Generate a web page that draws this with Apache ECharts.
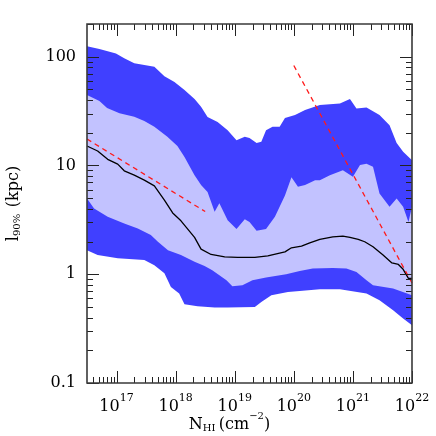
<!DOCTYPE html>
<html>
<head>
<meta charset="utf-8">
<script src="https://cdn.jsdelivr.net/npm/echarts@6/dist/echarts.min.js"></script>
<style>
  html, body { margin: 0; padding: 0; background: #fff; }
  #chart { width: 436px; height: 436px; }
</style>
</head>
<body>
<div id="chart"></div>
<script>
// x values are log10(N_HI / cm^-2), l values in kpc
const outerTopN = [16.5, 16.71, 16.99, 17.13, 17.30, 17.47, 17.64, 17.81, 17.98, 18.15, 18.32, 18.43, 18.54, 18.71, 18.88, 19.03, 19.17, 19.25, 19.37, 19.45, 19.53, 19.64, 19.76, 19.85, 20.02, 20.19, 20.44, 20.78, 20.95, 21.06, 21.23, 21.45, 21.62, 21.74, 21.85, 22.0]
const outerTopL = [125, 118, 107, 97, 87, 84, 81, 66, 58.5, 49.4, 40.8, 34.7, 27.9, 25.1, 21.1, 17.1, 18.4, 17.9, 16.1, 16.5, 21.1, 22.7, 22.7, 27.3, 29.1, 32.4, 36, 37.2, 40.8, 33.5, 34.2, 29.1, 23.5, 16.1, 13.4, 11.2]

const innerTopN = [16.5, 16.71, 16.84, 17.05, 17.30, 17.47, 17.64, 17.86, 18.03, 18.15, 18.32, 18.43, 18.54, 18.66, 18.74, 18.88, 19.03, 19.17, 19.25, 19.37, 19.53, 19.68, 19.85, 19.96, 20.07, 20.19, 20.36, 20.44, 20.61, 20.83, 21.00, 21.12, 21.23, 21.34, 21.45, 21.62, 21.74, 21.85, 21.94, 22.0]
const innerTopL = [44.5, 39.1, 33.7, 30.3, 28.0, 25.6, 22.7, 18.4, 15.1, 12.0, 8.15, 6.6, 5.72, 3.75, 4.5, 3.14, 2.60, 3.2, 3.03, 2.51, 2.60, 3.37, 5.3, 7.8, 6.37, 6.6, 7.33, 7.33, 8.15, 9.06, 7.87, 10.1, 10.4, 9.73, 5.54, 4.17, 4.98, 4.17, 3.03, 4.17]

const medianN = [16.5, 16.68, 16.85, 17.02, 17.13, 17.30, 17.47, 17.64, 17.81, 17.95, 18.09, 18.32, 18.43, 18.60, 18.83, 19.05, 19.34, 19.56, 19.85, 19.96, 20.13, 20.27, 20.44, 20.66, 20.83, 20.95, 21.09, 21.20, 21.34, 21.51, 21.66, 21.77, 21.85, 21.94, 22.0]
const medianL = [15.1, 13.6, 11.4, 10.3, 8.94, 8.15, 7.33, 6.5, 4.80, 3.66, 3.10, 2.18, 1.70, 1.52, 1.445, 1.427, 1.427, 1.475, 1.606, 1.75, 1.81, 1.94, 2.09, 2.21, 2.24, 2.18, 2.09, 1.99, 1.79, 1.50, 1.27, 1.23, 1.11, 0.915, 0.915]

const innerBotN = [16.5, 16.62, 16.85, 17.13, 17.36, 17.58, 17.70, 17.87, 18.09, 18.32, 18.49, 18.62, 18.86, 18.96, 19.13, 19.30, 19.53, 19.87, 20.10, 20.32, 20.66, 20.89, 21.06, 21.23, 21.34, 21.68, 22.0]
const innerBotL = [4.98, 4.03, 3.37, 2.93, 2.64, 2.29, 1.99, 1.66, 1.50, 1.30, 1.19, 1.09, 0.881, 0.776, 0.792, 0.881, 0.933, 1.00, 1.07, 1.13, 1.14, 1.13, 1.05, 0.881, 0.792, 0.74, 0.641]

const outerBotN = [16.5, 16.68, 17.02, 17.47, 17.64, 17.81, 17.92, 18.06, 18.15, 18.37, 18.66, 18.88, 19.34, 19.45, 19.62, 19.90, 20.10, 20.44, 20.78, 21.23, 21.45, 21.68, 21.85, 22.0]
const outerBotL = [1.66, 1.50, 1.40, 1.35, 1.21, 1.02, 0.764, 0.665, 0.530, 0.508, 0.494, 0.494, 0.500, 0.556, 0.641, 0.687, 0.703, 0.728, 0.728, 0.665, 0.577, 0.467, 0.392, 0.340]

// red dashed reference slopes
const fit1N = [16.5, 18.5]
const fit1L = [17.5, 3.77]
const fit2N = [20, 22]
const fit2L = [83, 0.83]

// axis ticks
const xDecades = [16, 17, 18, 19, 20, 21, 22]
const yDecades = [-1, 0, 1, 2]
const yTickLabels = ['0.1', '1', '10', '100']
const xMin = Math.pow(10, 16.5)
const xMax = 1e22
const yMin = 0.1
const yMax = 200

const FONT = 'DejaVu Serif'

function pairs (ns, ls) {
  return ns.map((n, i) => [Math.pow(10, n), ls[i]])
}

function decadeOf (v) {
  const e = Math.round(Math.log10(v))
  return Math.abs(Math.log10(v) - e) < 1e-6 ? e : null
}

function tickList (decades, lo, hi) {
  const out = []
  decades.forEach(e => {
    for (let m = 1; m <= 9; m++) {
      const v = m * Math.pow(10, e)
      if (v >= lo * 0.999 && v <= hi * 1.001) out.push([v, m === 1 ? 1 : 0])
    }
  })
  return out
}

function band (name, ns, ls, color) {
  return {
    name: name,
    type: 'line',
    data: pairs(ns, ls),
    showSymbol: false,
    silent: true,
    lineStyle: { width: 0 },
    areaStyle: { color: color, opacity: 1, origin: 'start' }
  }
}

const chart = echarts.init(document.getElementById('chart'))

const option = {
  animation: false,
  backgroundColor: '#fff',
  grid: { left: 87, right: 24, top: 24, bottom: 53, containLabel: false, outerBoundsMode: 'none' },
  xAxis: {
    type: 'log',
    logBase: 10,
    min: xMin,
    max: xMax,
    axisLine: { show: false },
    axisTick: { show: false },
    splitLine: { show: false },
    axisLabel: {
      margin: 10,
      color: '#000',
      fontFamily: FONT,
      formatter: function (v) {
        const e = decadeOf(v)
        if (e === null || xDecades.indexOf(e) < 0 || e < 17) return ''
        return '{b|10}{s|' + e + '}'
      },
      rich: {
        b: { fontFamily: FONT, fontSize: 16, color: '#000', lineHeight: 22, verticalAlign: 'bottom' },
        s: { fontFamily: FONT, fontSize: 11, color: '#000', lineHeight: 14, verticalAlign: 'top' }
      }
    },
    name: '{b|N}{sub|HI} {b|(cm}{sup|−2}{b|)}',
    nameLocation: 'middle',
    nameMoveOverlap: false,
    nameGap: 28,
    nameTextStyle: {
      padding: [0, 40, 0, 0],
      rich: {
        b: { fontFamily: FONT, fontSize: 16, color: '#000', lineHeight: 22, verticalAlign: 'bottom' },
        sub: { fontFamily: FONT, fontSize: 10, color: '#000', lineHeight: 18, verticalAlign: 'bottom' },
        sup: { fontFamily: FONT, fontSize: 10, color: '#000', lineHeight: 14, verticalAlign: 'top' }
      }
    }
  },
  yAxis: {
    type: 'log',
    logBase: 10,
    min: yMin,
    max: yMax,
    axisLine: { show: false },
    axisTick: { show: false },
    splitLine: { show: false },
    axisLabel: {
      margin: 11,
      color: '#000',
      fontFamily: FONT,
      fontSize: 16,
      formatter: function (v) {
        const e = decadeOf(v)
        const i = yDecades.indexOf(e)
        return i < 0 ? '' : yTickLabels[i]
      }
    },
    name: '{b|l}{sub|90%}  {b|(kpc)}',
    nameLocation: 'middle',
    nameRotate: 90,
    nameMoveOverlap: false,
    nameGap: 65,
    nameTextStyle: {
      rich: {
        b: { fontFamily: FONT, fontSize: 16, color: '#000', lineHeight: 22, verticalAlign: 'bottom' },
        sub: { fontFamily: FONT, fontSize: 10, color: '#000', lineHeight: 18, verticalAlign: 'bottom' }
      }
    }
  },
  series: [
    band('outerTop', outerTopN, outerTopL, '#4040ff'),
    band('innerTop', innerTopN, innerTopL, '#c2c2ff'),
    band('innerBot', innerBotN, innerBotL, '#4040ff'),
    band('outerBot', outerBotN, outerBotL, '#ffffff'),
    {
      name: 'median',
      type: 'line',
      data: pairs(medianN, medianL),
      showSymbol: false,
      lineStyle: { color: '#000', width: 1.3 }
    },
    {
      name: 'fit1',
      type: 'line',
      data: pairs(fit1N, fit1L),
      showSymbol: false,
      lineStyle: { color: '#ff1a1a', width: 1.3, type: [5, 4] }
    },
    {
      name: 'fit2',
      type: 'line',
      data: pairs(fit2N, fit2L),
      showSymbol: false,
      lineStyle: { color: '#ff1a1a', width: 1.3, type: [5, 4] }
    },
    {
      // ticks on bottom and top edges
      type: 'custom',
      z: 10,
      silent: true,
      data: tickList(xDecades, xMin, xMax).map(t => [t[0], 1, t[1]]),
      encode: { x: 0, y: 1 },
      renderItem: function (params, api) {
        const cs = params.coordSys
        const px = Math.round(api.coord([api.value(0), 1])[0]) + 0.5
        const len = api.value(2) ? 12 : 6
        const st = { stroke: '#222', lineWidth: 1 }
        return {
          type: 'group',
          children: [
            { type: 'line', shape: { x1: px, y1: cs.y + cs.height, x2: px, y2: cs.y + cs.height - len }, style: st },
            { type: 'line', shape: { x1: px, y1: cs.y, x2: px, y2: cs.y + len }, style: st }
          ]
        }
      }
    },
    {
      // ticks on left and right edges
      type: 'custom',
      z: 10,
      silent: true,
      data: tickList(yDecades, yMin, yMax).map(t => [1e17, t[0], t[1]]),
      encode: { x: 0, y: 1 },
      renderItem: function (params, api) {
        const cs = params.coordSys
        const py = Math.round(api.coord([1e17, api.value(1)])[1]) + 0.5
        const len = api.value(2) ? 12 : 6
        const st = { stroke: '#222', lineWidth: 1 }
        return {
          type: 'group',
          children: [
            { type: 'line', shape: { x1: cs.x, y1: py, x2: cs.x + len, y2: py }, style: st },
            { type: 'line', shape: { x1: cs.x + cs.width, y1: py, x2: cs.x + cs.width - len, y2: py }, style: st }
          ]
        }
      }
    },
    {
      // plot frame
      type: 'custom',
      z: 11,
      silent: true,
      data: [[1e17, 1]],
      encode: { x: 0, y: 1 },
      renderItem: function (params, api) {
        const cs = params.coordSys
        return {
          type: 'rect',
          shape: { x: cs.x, y: cs.y, width: cs.width, height: cs.height },
          style: { fill: 'none', stroke: '#3a3a3a', lineWidth: 1.6 }
        }
      }
    }
  ]
}

chart.clear()
chart.setOption(option)
</script>
</body>
</html>
